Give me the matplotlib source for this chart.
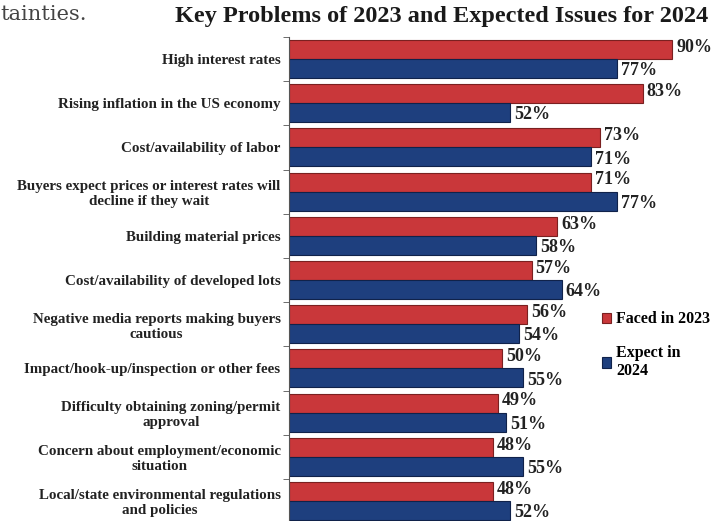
import numpy as np
import matplotlib
matplotlib.use("Agg")
import matplotlib.pyplot as plt

categories = [
    "High interest rates",
    "Rising inflation in the US economy",
    "Cost/availability of labor",
    "Buyers expect prices or interest rates will\ndecline if they wait",
    "Building material prices",
    "Cost/availability of developed lots",
    "Negative media reports making buyers\ncautious",
    "Impact/hook-up/inspection or other fees",
    "Difficulty obtaining zoning/permit\napproval",
    "Concern about employment/economic\nsituation",
    "Local/state environmental regulations\nand policies",
]
faced_2023 = [90, 83, 73, 71, 63, 57, 56, 50, 49, 48, 48]
expect_2024 = [77, 52, 71, 77, 58, 64, 54, 55, 51, 55, 52]

RED = "#C9373A"
BLUE = "#1E3F7E"
SERIF = "Liberation Serif"

plt.rcParams["font.family"] = SERIF

fig = plt.figure(figsize=(7.15, 5.21), dpi=100)
ax = fig.add_axes([0.404, -0.004, 0.596, 0.933])

n = len(categories)
y = np.arange(n)
h = 0.43

ax.barh(y - h / 2, faced_2023, height=h, color=RED, edgecolor="#7a2020",
        linewidth=0.8, label="Faced in 2023")
ax.barh(y + h / 2, expect_2024, height=h, color=BLUE, edgecolor="#10224a",
        linewidth=0.8, label="Expect in\n2024")

for yi, v in zip(y, faced_2023):
    ax.text(v + 0.9, yi - h / 2 - 0.05, f"{v}%", va="center", ha="left",
            fontsize=13, fontweight="bold", color="#222222")
for yi, v in zip(y, expect_2024):
    ax.text(v + 0.9, yi + h / 2 + 0.05, f"{v}%", va="center", ha="left",
            fontsize=13, fontweight="bold", color="#222222")

ax.set_xlim(0, 100)
ax.set_ylim(n - 0.5, -0.5)
ax.set_yticks(y)
ax.set_yticklabels(categories, fontsize=10.8, fontweight="bold", color="#222222")
for lbl in ax.get_yticklabels():
    lbl.set_multialignment("center")
ax.set_yticks(np.arange(-0.5, n, 1.0), minor=True)
ax.tick_params(axis="y", which="major", length=0, pad=6)
ax.tick_params(axis="y", which="minor", length=4, color="#555555")
ax.set_xticks([])
for side in ["top", "right", "bottom"]:
    ax.spines[side].set_visible(False)
ax.spines["left"].set_color("#555555")

leg = ax.legend(loc="upper left", bbox_to_anchor=(0.70, 0.465), frameon=False,
                prop={"family": SERIF, "weight": "bold", "size": 11.5},
                handlelength=0.6, handleheight=0.6, handletextpad=0.3,
                labelspacing=1.1)

fig.text(0.618, 0.968, "Key Problems of 2023 and Expected Issues for 2024",
         ha="center", va="center", fontsize=17.5, fontweight="bold", color="#1a1a1a")
fig.text(0.0, 0.972, "tainties.", ha="left", va="center", fontsize=15,
         color="#444444", family="DejaVu Serif")

fig.savefig("out.png", dpi=100)
